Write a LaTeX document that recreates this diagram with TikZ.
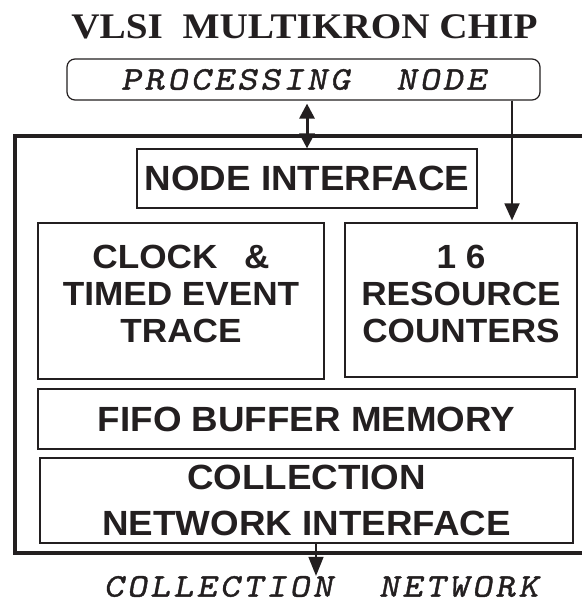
\documentclass[tikz,border=0pt]{standalone}
\usepackage{fontspec}
\usetikzlibrary{arrows.meta}
\newfontfamily\titlefont{Liberation Serif}[FakeStretch=1.09]
\newfontfamily\boxfont{Liberation Sans}[FakeStretch=1.05]
\newfontfamily\curfont{lmmonoslant10-regular.otf}[FakeStretch=1.15,LetterSpace=10,FakeBold=1.2]
\definecolor{ink}{RGB}{35,31,32}
\begin{document}
\begin{tikzpicture}[x=1pt,y=-1pt,
  blk/.style={draw=ink, line width=1.2pt, inner sep=0pt, align=center, text=ink,
    font=\boxfont\bfseries\fontsize{35}{37}\selectfont},
  monotext/.style={inner sep=0pt, text=ink, font=\curfont\fontsize{33}{35}\selectfont},
  tipA/.tip={Triangle[width=15pt,length=15pt]}
]
\useasboundingbox (0,0) rectangle (582,604);
\fill[white] (0,0) rectangle (582,604);

\node[inner sep=0pt, anchor=base, text=ink, font=\titlefont\bfseries\fontsize{36}{36}\selectfont] (title) at (304.5,39) {VLSI\ \ MULTIKRON CHIP};

\node[draw=ink, line width=1.2pt, rounded corners=8pt, minimum width=473pt, minimum height=41pt, monotext] (pn) at (303.5,79.5) {PROCESSING\ \ NODE};

% chip outline (continues past the right edge)
\draw[draw=ink, line width=4pt, line join=miter] (582,136) -- (15,136) -- (15,553) -- (582,553);

\node[blk, minimum width=340pt, minimum height=59pt] (ni) at (307,178.5) {NODE INTERFACE};
\node[blk, minimum width=286pt, minimum height=156pt, font=\boxfont\bfseries\fontsize{33.5}{37}\selectfont] (clock) at (181,301)
  {CLOCK\hspace{0.8em}\&\\TIMED EVENT\\TRACE\rule[-14pt]{0pt}{0pt}};
\node[blk, minimum width=232pt, minimum height=154pt, font=\boxfont\bfseries\fontsize{33.5}{37}\selectfont] (res) at (461,300)
  {1 6\\RESOURCE\\COUNTERS\rule[-12pt]{0pt}{0pt}};
\node[blk, minimum width=537pt, minimum height=60pt] (fifo) at (306.5,419) {FIFO BUFFER MEMORY};
\node[blk, minimum width=533pt, minimum height=85pt, font=\boxfont\bfseries\fontsize{35}{46}\selectfont] (cni) at (306.5,500.5) {COLLECTION\\NETWORK INTERFACE};

\node[monotext] (cn) at (321,586.5) {COLLECTION\ \ NETWORK};

\coordinate (rx) at (512,0);
\coordinate (bx) at (316,0);

\draw[draw=ink, fill=ink, line width=3pt, tipA-tipA, shorten <=3pt] (ni.north |- pn.south) -- (ni.north);
\draw[draw=ink, fill=ink, line width=1.8pt, -{Triangle[width=15pt,length=17pt]}, shorten >=2pt] (rx |- pn.south) -- (rx |- res.north);
\draw[draw=ink, fill=ink, line width=1.5pt, -{Triangle[width=15pt,length=19pt]}] (bx |- cni.south) -- (bx |- cn.north);
\end{tikzpicture}
\end{document}
